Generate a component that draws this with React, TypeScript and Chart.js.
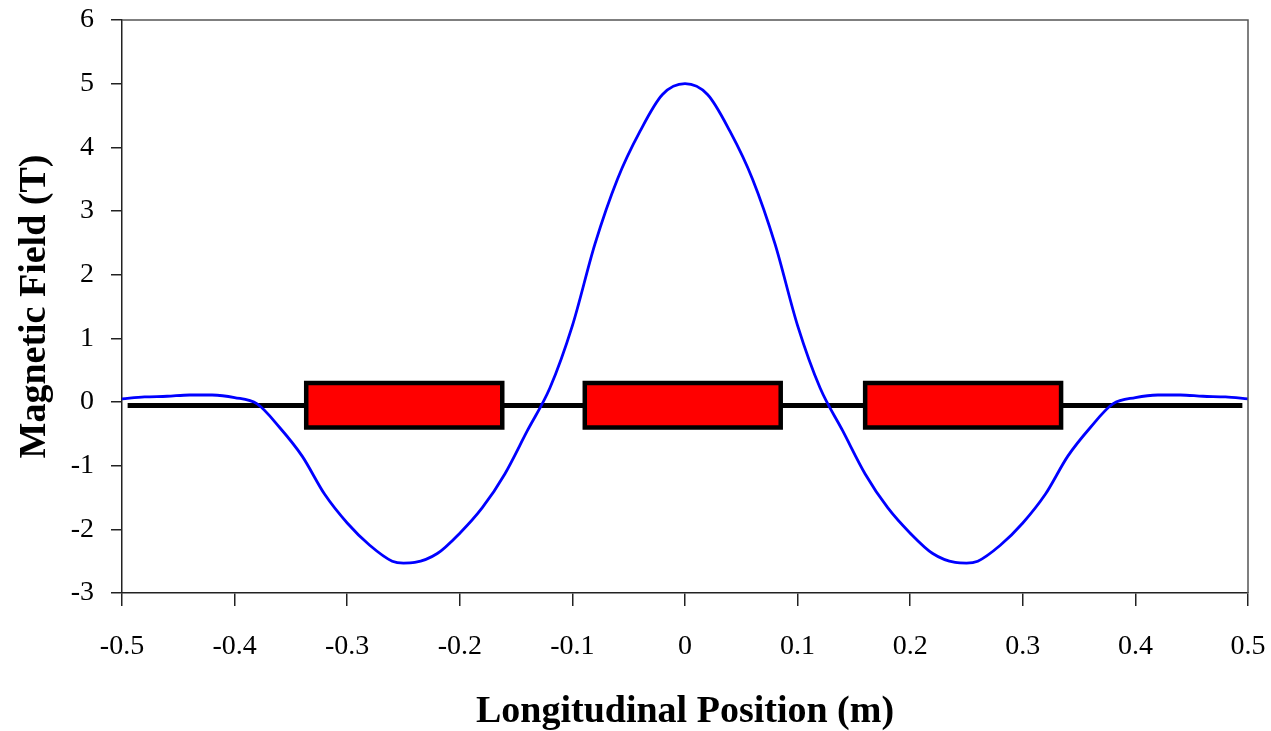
import React, { useEffect, useRef } from "react";
import { Chart, registerables } from "chart.js";

Chart.register(...registerables);

// Blue field curve: position (m) and field (T)
const positions = [
  -0.5, -0.48, -0.46, -0.44, -0.42, -0.4, -0.38, -0.36, -0.34, -0.32, -0.3, -0.28, -0.26, -0.25, -0.24, -0.22, -0.2,
  -0.18, -0.16, -0.14, -0.12, -0.1, -0.08, -0.06, -0.04, -0.02, 0, 0.02, 0.04, 0.06, 0.08, 0.1, 0.12, 0.14, 0.16,
  0.18, 0.2, 0.22, 0.24, 0.25, 0.26, 0.28, 0.3, 0.32, 0.34, 0.36, 0.38, 0.4, 0.42, 0.44, 0.46, 0.48, 0.5,
];
const field = [
  0.05, 0.08, 0.09, 0.11, 0.11, 0.07, -0.03, -0.4, -0.85, -1.45, -1.9, -2.25, -2.5, -2.53, -2.52, -2.38, -2.06,
  -1.66, -1.13, -0.45, 0.22, 1.2, 2.48, 3.5, 4.25, 4.83, 5.0, 4.83, 4.25, 3.5, 2.48, 1.2, 0.22, -0.45, -1.13,
  -1.66, -2.06, -2.38, -2.52, -2.53, -2.5, -2.25, -1.9, -1.45, -0.85, -0.4, -0.03, 0.07, 0.11, 0.11, 0.09, 0.08, 0.05,
];

// Black beam line
const beamX = [-0.495, 0.495];
const beamY = [-0.055, -0.055];

// Red magnet blocks
const magnetStart = [-0.3364, -0.089, 0.16];
const magnetEnd = [-0.1623, 0.085, 0.334];
const magnetTop = 0.3;
const magnetBottom = -0.4;

const xTicksMin = -0.5;
const xTicksMax = 0.5;
const yTicksMin = -3;
const yTicksMax = 6;

const FONT = '"Liberation Serif", "Times New Roman", serif';

const frame = {
  id: "frame",
  afterDraw(chart: any) {
    const { ctx, chartArea } = chart;
    ctx.save();
    ctx.strokeStyle = "#555";
    ctx.lineWidth = 1.5;
    ctx.beginPath();
    ctx.moveTo(chartArea.left, chartArea.top);
    ctx.lineTo(chartArea.right, chartArea.top);
    ctx.lineTo(chartArea.right, chartArea.bottom);
    ctx.stroke();
    ctx.restore();
  },
};

export default function App() {
  const ref = useRef<HTMLCanvasElement | null>(null);

  useEffect(() => {
    document.body.style.margin = "0";
    const canvas = ref.current;
    if (!canvas) return;

    const curve = positions.map((x, i) => ({ x, y: field[i] }));
    const beam = beamX.map((x, i) => ({ x, y: beamY[i] }));

    const magnetSets = magnetStart.map((s, i) => {
      const e = magnetEnd[i];
      return {
        data: [
          { x: s, y: magnetTop },
          { x: e, y: magnetTop },
          { x: e, y: magnetBottom },
          { x: s, y: magnetBottom },
          { x: s, y: magnetTop },
          { x: e, y: magnetTop },
        ],
        showLine: true,
        borderColor: "#000",
        borderWidth: 4.5,
        backgroundColor: "#ff0000",
        fill: "shape" as any,
        pointRadius: 0,
        tension: 0,
        borderJoinStyle: "miter" as any,
        order: 2,
      };
    });

    const chart = new Chart(canvas, {
      type: "scatter",
      data: {
        datasets: [
          {
            data: curve,
            showLine: true,
            borderColor: "#0000ff",
            borderWidth: 2.8,
            pointRadius: 0,
            cubicInterpolationMode: "monotone",
            fill: false,
            order: 1,
          },
          ...magnetSets,
          {
            data: beam,
            showLine: true,
            borderColor: "#000",
            borderWidth: 5,
            pointRadius: 0,
            fill: false,
            order: 3,
          },
        ] as any,
      },
      options: {
        animation: false,
        responsive: false,
        layout: { padding: { top: 20, right: 23, left: 0, bottom: 0 } },
        plugins: { legend: { display: false }, tooltip: { enabled: false } },
        scales: {
          x: {
            type: "linear",
            min: xTicksMin,
            max: xTicksMax,
            afterFit: (s: any) => {
              s.height = 138;
              s.paddingLeft = 0;
              s.paddingRight = 0;
            },
            ticks: {
              stepSize: 0.1,
              color: "#000",
              padding: 24,
              font: { family: FONT, size: 28 },
              maxRotation: 0,
            },
            grid: {
              drawOnChartArea: false,
              drawTicks: true,
              tickLength: 13,
              color: "#222",
              lineWidth: 1.5,
            },
            border: { display: true, color: "#222", width: 1.5 },
            title: {
              display: true,
              text: "Longitudinal Position (m)",
              color: "#000",
              font: { family: FONT, size: 38, weight: "bold", lineHeight: 1 },
              padding: { top: 0, bottom: 0 },
            },
          },
          y: {
            type: "linear",
            min: yTicksMin,
            max: yTicksMax,
            afterFit: (s: any) => {
              s.width = 122;
              s.paddingTop = 0;
              s.paddingBottom = 0;
            },
            ticks: {
              stepSize: 0.5,
              color: "#000",
              padding: 17,
              font: { family: FONT, size: 28 },
              callback: (v: any) => (Number.isInteger(Number(v)) ? String(v) : ""),
            },
            grid: {
              drawOnChartArea: false,
              drawTicks: true,
              tickLength: 11,
              color: "#222",
              lineWidth: 1.5,
            },
            border: { display: true, color: "#222", width: 1.5 },
            title: {
              display: true,
              text: "Magnetic Field (T)",
              color: "#000",
              font: { family: FONT, size: 38, weight: "bold", lineHeight: 1 },
              padding: { top: 16, bottom: 0 },
            },
          },
        },
      },
      plugins: [frame],
    });

    return () => chart.destroy();
  }, []);

  return (
    <div style={{ position: "absolute", left: 0, top: 0, width: 1271, height: 731, background: "#fff" }}>
      <canvas ref={ref} width={1271} height={731} />
    </div>
  );
}
